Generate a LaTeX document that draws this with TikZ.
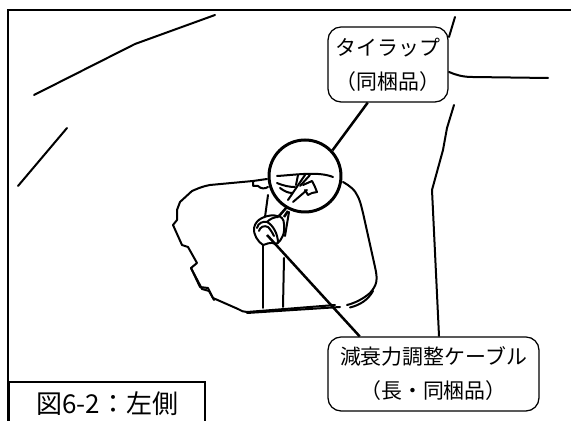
\documentclass[tikz,border=0pt]{standalone}
\usepackage{fontspec}
\setmainfont{Noto Sans CJK JP}
\tikzset{
	partline/.style={line width=0.04cm, line cap=round, line join=round},
	calloutbox/.style={draw, line width=0.025cm, rounded corners=0.26cm, fill=white, align=center, inner sep=0pt},
	calloutline/.style={line width=0.05cm},
}
\begin{document}
\begin{tikzpicture}[x=0.02cm, y=-0.02cm, font=\fontsize{11.9pt}{19.3pt}\selectfont]
	\useasboundingbox (0,0) rectangle (571,421);
	\fill[white] (0,0) rectangle (571,421);
	% frame
	\draw[line width=0.05cm] (8,421) -- (8,10) -- (571,10);
	% body outlines
	\draw[partline] (34,95) -- (135,44) -- (215,15);
	\draw[partline] (18,186) -- (67,128);
	\draw[partline] (455,17) -- (449,37);
	\draw[partline] (449,72) .. controls (456,75) and (463,77) .. (472,77) -- (548,78);
	\draw[partline] (454,105) -- (447,128) -- (443,150) -- (432,190) -- (439,336);
	% tank cover
	\draw[partline] (253,181) -- (210,185) .. controls (200,187) and (197,189) .. (192,191)
		-- (180,202) -- (177,210) -- (177,220) -- (173,225) -- (182,245) -- (188,247) -- (197,263)
		-- (191,268) -- (200,287) -- (208,288) -- (213,298) -- (238,309)
		.. controls (241,311) and (244,312) .. (247,312) -- (335,305);
	\draw[partline] (191,268) -- (202,289) -- (209,291) -- (214,300);
	\draw[partline] (247,313) -- (340,307);
	\draw[partline] (343,182) .. controls (350,186) and (355,190) .. (357,195) .. controls (360,200) and (361,205) .. (363,213)
		-- (375,267) .. controls (378,280) and (377,285) .. (370,293) .. controls (363,299) and (355,303) .. (347,305);
	\draw[partline] (350,307.5) .. controls (360,305) and (368,300) .. (373,291);
	% frame tube
	\draw[partline] (263,308) -- (263,245);
	\draw[partline] (283,307) -- (284,258);
	\draw[partline] (268,195) -- (265,217);
	\draw[partline] (289,212) -- (285,236);
	% tie wrap stub
	\draw[partline] (253,182) -- (253,186) -- (258,186) .. controls (261,189) and (265,189) .. (268,187);
	\draw[partline] (253,181) -- (267,179);
	% adjuster knob
	\draw[calloutline] (287,207) -- (279,216);
	\draw[calloutline] (288,211) -- (284,217);
	\draw[partline, fill=white] (262,218) .. controls (268,215) and (274,215) .. (277,216)
		.. controls (281,216) and (284,219) .. (284,224) .. controls (285,232) and (283,240) .. (276,244)
		.. controls (270,241) and (265,245) .. (263,245) .. controls (258,242) and (253,234) .. (254,228)
		.. controls (255,223) and (258,220) .. (262,218) -- cycle;
	\draw[partline] (257,228) .. controls (258,223) and (263,221) .. (267,222) .. controls (273,225) and (278,234) .. (278,243);
	\draw[partline] (259,231) .. controls (260,227) and (264,225) .. (268,227) .. controls (270,229) and (272,232) .. (274,236);
	\draw[partline] (267,222) .. controls (270,219) and (274,217) .. (278,217);
	% detail circle
	\node[circle, draw, line width=0.06cm, fill=white, minimum size=1.44cm, inner sep=0pt] (detail) at (305,176) {};
	\draw[partline] (277,176) .. controls (295,175) and (318,171) .. (333,177);
	\draw[partline] (277,183) .. controls (284,186) and (290,187) .. (295,187);
	\draw[partline] (280,188) .. controls (284,191) and (288,193) .. (292,193);
	\draw[partline] (298,175) -- (296,185);
	\draw[partline] (305,175) -- (288,200);
	\draw[partline] (310,175) -- (300,186);
	\draw[partline] (307,190) -- (293,202);
	\draw[partline] (303,185) -- (312,181) -- (315,187) -- (317,192) -- (312,193) -- (308,195) -- (305,190);
	% callouts
	\node[calloutbox, minimum width=2.4cm, minimum height=1.5cm] (tiewrap) at (388,64.5) {タイラップ\\（同梱品）};
	\node[calloutbox, minimum width=4.22cm, minimum height=1.48cm] (cable) at (433.5,374) {減衰力調整ケーブル\\（長・同梱品）};
	\coordinate (knob) at (267,235);
	\draw[calloutline] (detail.43) -- (tiewrap.-118);
	\draw[calloutline] (knob) -- (cable.153);
	% caption
	\node[draw, line width=0.05cm, anchor=north west, minimum width=3.92cm, minimum height=0.84cm, inner sep=0pt, font=\fontsize{14.8pt}{16pt}\selectfont] (caption) at (8,381) {図6-2：左側};
\end{tikzpicture}
\end{document}
